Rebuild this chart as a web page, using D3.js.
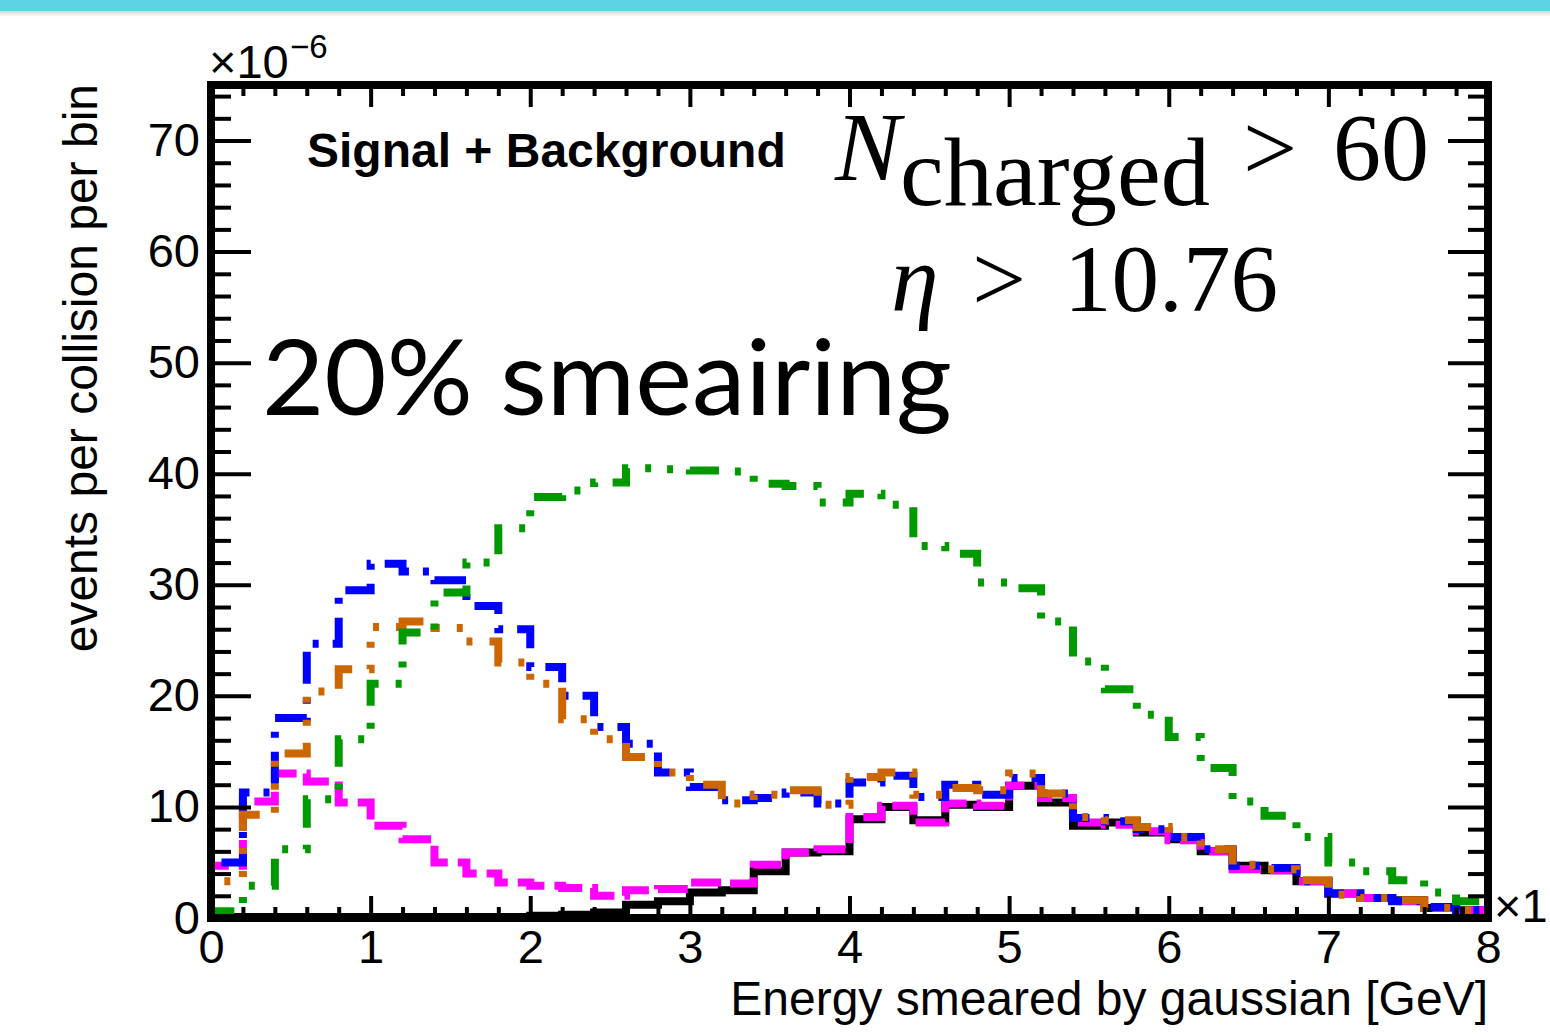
<!DOCTYPE html>
<html>
<head>
<meta charset="utf-8">
<script src="https://cdn.jsdelivr.net/npm/d3@7"></script>
<style>
  html, body { margin: 0; padding: 0; background: #fff; }
  svg { display: block; }
</style>
</head>
<body>
<div id="chart"></div>
<script>
// Bin edges (GeV, x10^3 on the axis) and per-bin contents (x10^-6)
const binEdges = [0, 0.2, 0.4, 0.6, 0.8, 1.0, 1.2, 1.4, 1.6, 1.8,
                  2.0, 2.2, 2.4, 2.6, 2.8, 3.0, 3.2, 3.4, 3.6, 3.8,
                  4.0, 4.2, 4.4, 4.6, 4.8, 5.0, 5.2, 5.4, 5.6, 5.8,
                  6.0, 6.2, 6.4, 6.6, 6.8, 7.0, 7.2, 7.4, 7.6, 7.8, 8.0];

const blackVals = [0.1, 0.1, 0.1, 0.1, 0.1, 0.1, 0.1, 0.1, 0.1, 0.1,
                   0.2, 0.3, 0.5, 1.2, 1.5, 2.3, 2.5, 4.2, 5.9, 6.0,
                   8.9, 10.0, 8.8, 10.2, 10.0, 11.9, 10.4, 8.3, 8.6, 7.7,
                   7.1, 6.0, 4.7, 4.3, 3.3, 2.2, 1.8, 1.6, 0.9, 0.7];
const magentaVals = [4.7, 10.5, 13.0, 12.3, 10.4, 8.3, 7.1, 5.0, 4.0, 3.2,
                     2.9, 2.7, 2.0, 2.5, 2.6, 3.2, 3.1, 4.8, 5.9, 6.2,
                     9.1, 10.1, 8.6, 10.3, 10.1, 11.9, 10.8, 8.6, 8.4, 7.8,
                     7.0, 6.0, 4.4, 4.3, 3.3, 2.2, 1.8, 1.5, 0.9, 0.7];
const blueVals = [5.0, 11.3, 18.0, 24.7, 29.5, 31.9, 31.2, 30.4, 28.1, 26.0,
                  22.6, 20.0, 17.2, 15.7, 13.1, 11.8, 10.6, 10.8, 11.3, 10.3,
                  12.2, 12.8, 10.9, 12.0, 11.1, 12.6, 11.2, 9.0, 8.7, 8.0,
                  7.3, 6.2, 4.7, 4.5, 3.3, 2.2, 1.8, 1.5, 1.0, 0.7];
const orangeVals = [3.3, 9.3, 14.8, 20.4, 22.4, 26.2, 26.7, 26.1, 24.9, 23.0,
                    21.1, 17.9, 16.1, 14.5, 13.1, 12.0, 10.3, 11.1, 11.5, 10.2,
                    12.7, 13.1, 11.1, 11.7, 11.5, 13.0, 11.2, 9.1, 8.8, 8.2,
                    7.3, 6.2, 4.8, 4.4, 3.4, 2.1, 1.8, 1.6, 0.9, 0.7];
const greenVals = [0.6, 2.9, 6.2, 10.7, 16.1, 21.1, 25.7, 29.3, 32.0, 35.1,
                   37.9, 38.5, 39.2, 40.5, 40.4, 40.3, 40.2, 39.1, 38.9, 37.4,
                   38.2, 37.2, 33.5, 32.8, 30.2, 29.7, 26.7, 23.1, 20.6, 18.3,
                   16.3, 13.5, 10.5, 9.2, 7.3, 5.0, 4.2, 3.4, 2.3, 1.5];

const xMajor = [0, 1, 2, 3, 4, 5, 6, 7, 8];
const xMinor = [0.2, 0.4, 0.6, 0.8, 1.2, 1.4, 1.6, 1.8, 2.2, 2.4, 2.6, 2.8,
                3.2, 3.4, 3.6, 3.8, 4.2, 4.4, 4.6, 4.8, 5.2, 5.4, 5.6, 5.8,
                6.2, 6.4, 6.6, 6.8, 7.2, 7.4, 7.6, 7.8];
const yMajor = [0, 10, 20, 30, 40, 50, 60, 70];
const yMinor = [2, 4, 6, 8, 12, 14, 16, 18, 22, 24, 26, 28, 32, 34, 36, 38,
                42, 44, 46, 48, 52, 54, 56, 58, 62, 64, 66, 68, 72, 74];

const series = [
    { name: 'black',   vals: blackVals,   color: '#000000', dash: null },
    { name: 'magenta', vals: magentaVals, color: '#ff00ff', dash: '30,10' },
    { name: 'blue',    vals: blueVals,    color: '#0000ff', dash: '32,14,6,14' },
    { name: 'orange',  vals: orangeVals,  color: '#cc6600', dash: '33,17,6,17,6,17,6,17' },
    { name: 'green',   vals: greenVals,   color: '#009900', dash: '30,17,6,17,6,17' }
];

const W = 1550, H = 1036;
const frame = { left: 211, right: 1488, top: 85, bottom: 918 };
const SANS = '"Liberation Sans", Arial, Helvetica, sans-serif';
const SERIF = '"Liberation Serif", "Times New Roman", serif';

const svg = d3.select('#chart').append('svg')
    .attr('width', W).attr('height', H)
    .attr('viewBox', `0 0 ${W} ${H}`);

svg.append('rect').attr('width', W).attr('height', H).attr('fill', '#fff');

// Slide banner with a soft shadow
const defs = svg.append('defs');
const shadow = defs.append('linearGradient').attr('id', 'bannerShadow')
    .attr('x1', 0).attr('y1', 0).attr('x2', 0).attr('y2', 1);
shadow.append('stop').attr('offset', '0%').attr('stop-color', '#000').attr('stop-opacity', 0.18);
shadow.append('stop').attr('offset', '100%').attr('stop-color', '#000').attr('stop-opacity', 0);
svg.append('rect').attr('x', 0).attr('y', 10).attr('width', W).attr('height', 7).attr('fill', 'url(#bannerShadow)');
svg.append('rect').attr('x', 0).attr('y', 0).attr('width', W).attr('height', 11).attr('fill', '#5dd3e1');

// Scales
const x = d3.scaleLinear().domain([0, 8]).range([frame.left, frame.right]);
const y = d3.scaleLinear().domain([0, 75]).range([frame.bottom, frame.top]);

defs.append('clipPath').attr('id', 'frameClip')
    .append('rect')
    .attr('x', frame.left).attr('y', frame.top)
    .attr('width', frame.right - frame.left).attr('height', frame.bottom - frame.top);

// Histogram outlines: up from zero at the first edge, steps, back to zero
function histPoints(vals) {
    const pts = [[binEdges[0], 0]];
    vals.forEach((v, i) => {
        pts.push([binEdges[i], v]);
        pts.push([binEdges[i + 1], v]);
    });
    pts.push([binEdges[binEdges.length - 1], 0]);
    return pts;
}
const line = d3.line().x(d => x(d[0])).y(d => y(d[1]));

const histG = svg.append('g').attr('clip-path', 'url(#frameClip)');
series.forEach(s => {
    histG.append('path')
        .datum(histPoints(s.vals))
        .attr('d', line)
        .attr('fill', 'none')
        .attr('stroke', s.color)
        .attr('stroke-width', 8)
        .attr('stroke-linejoin', 'miter')
        .attr('stroke-linecap', 'butt')
        .attr('stroke-dasharray', s.dash);
});

// Axes (ROOT style: ticks on all four sides, pointing inward)
function styleTicks(ax) {
    ax.select('.domain').remove();
    ax.selectAll('line').attr('stroke', '#000').attr('stroke-width', 4);
    ax.selectAll('text').attr('fill', '#000').attr('font-size', 47).attr('font-family', SANS);
}

svg.append('g').attr('transform', `translate(0,${frame.bottom})`)
    .call(d3.axisBottom(x).tickValues(xMinor).tickSize(-11).tickFormat(''))
    .call(styleTicks);
svg.append('g').attr('transform', `translate(0,${frame.bottom})`)
    .call(d3.axisBottom(x).tickValues(xMajor).tickSize(-22).tickPadding(12).tickFormat(d3.format('d')))
    .call(styleTicks);
svg.append('g').attr('transform', `translate(0,${frame.top})`)
    .call(d3.axisTop(x).tickValues(xMinor).tickSize(-11).tickFormat(''))
    .call(styleTicks);
svg.append('g').attr('transform', `translate(0,${frame.top})`)
    .call(d3.axisTop(x).tickValues(xMajor).tickSize(-22).tickFormat(''))
    .call(styleTicks);

svg.append('g').attr('transform', `translate(${frame.left},0)`)
    .call(d3.axisLeft(y).tickValues(yMinor).tickSize(-20).tickFormat(''))
    .call(styleTicks);
svg.append('g').attr('transform', `translate(${frame.left},0)`)
    .call(d3.axisLeft(y).tickValues(yMajor).tickSize(-40).tickPadding(11).tickFormat(d3.format('d')))
    .call(styleTicks);
svg.append('g').attr('transform', `translate(${frame.right},0)`)
    .call(d3.axisRight(y).tickValues(yMinor).tickSize(-20).tickFormat(''))
    .call(styleTicks);
svg.append('g').attr('transform', `translate(${frame.right},0)`)
    .call(d3.axisRight(y).tickValues(yMajor).tickSize(-40).tickFormat(''))
    .call(styleTicks);

// Frame
svg.append('rect')
    .attr('x', frame.left).attr('y', frame.top)
    .attr('width', frame.right - frame.left).attr('height', frame.bottom - frame.top)
    .attr('fill', 'none').attr('stroke', '#000').attr('stroke-width', 8);

// Axis titles and exponents
svg.append('text')
    .attr('x', frame.right).attr('y', 1015)
    .attr('text-anchor', 'end').attr('font-size', 48).attr('font-family', SANS)
    .text('Energy smeared by gaussian [GeV]');
svg.append('text')
    .attr('transform', `translate(97,${frame.top - 1}) rotate(-90)`)
    .attr('text-anchor', 'end').attr('font-size', 48).attr('font-family', SANS)
    .text('events per collision per bin');

svg.append('text').attr('x', 209).attr('y', 78)
    .attr('font-size', 47).attr('font-family', SANS).text('×10');
svg.append('text').attr('x', 290).attr('y', 58)
    .attr('font-size', 33).attr('font-family', SANS).text('−6');
// x exponent, cut by the right edge as in the original slide
svg.append('text').attr('x', 1494).attr('y', 922)
    .attr('font-size', 47).attr('font-family', SANS).text('×1');

// Annotations
svg.append('text').attr('x', 307).attr('y', 167)
    .attr('font-size', 48).attr('font-weight', 700).attr('font-family', SANS)
    .text('Signal + Background');

svg.append('text').attr('x', 835).attr('y', 180)
    .attr('font-size', 98).attr('font-style', 'italic').attr('font-family', SERIF).text('N');
svg.append('text').attr('x', 900).attr('y', 205)
    .attr('font-size', 98).attr('font-family', SERIF)
    .attr('textLength', 310).attr('lengthAdjust', 'spacingAndGlyphs').text('charged');
svg.append('text').attr('x', 1243).attr('y', 180)
    .attr('font-size', 96).attr('font-family', SERIF).text('>');
svg.append('text').attr('x', 1333).attr('y', 180)
    .attr('font-size', 96).attr('font-family', SERIF).text('60');

svg.append('text').attr('x', 891).attr('y', 311)
    .attr('font-size', 96).attr('font-style', 'italic').attr('font-family', SERIF).text('η');
svg.append('text').attr('x', 972).attr('y', 311)
    .attr('font-size', 96).attr('font-family', SERIF).text('>');
svg.append('text').attr('x', 1064).attr('y', 311)
    .attr('font-size', 96).attr('font-family', SERIF)
    .attr('textLength', 214).attr('lengthAdjust', 'spacingAndGlyphs').text('10.76');

svg.append('text').attr('x', 262).attr('y', 415)
    .attr('font-size', 104).attr('font-family', 'Lato, "Open Sans", sans-serif')
    .attr('textLength', 690).attr('lengthAdjust', 'spacingAndGlyphs')
    .text('20% smeairing');
</script>
</body>
</html>
